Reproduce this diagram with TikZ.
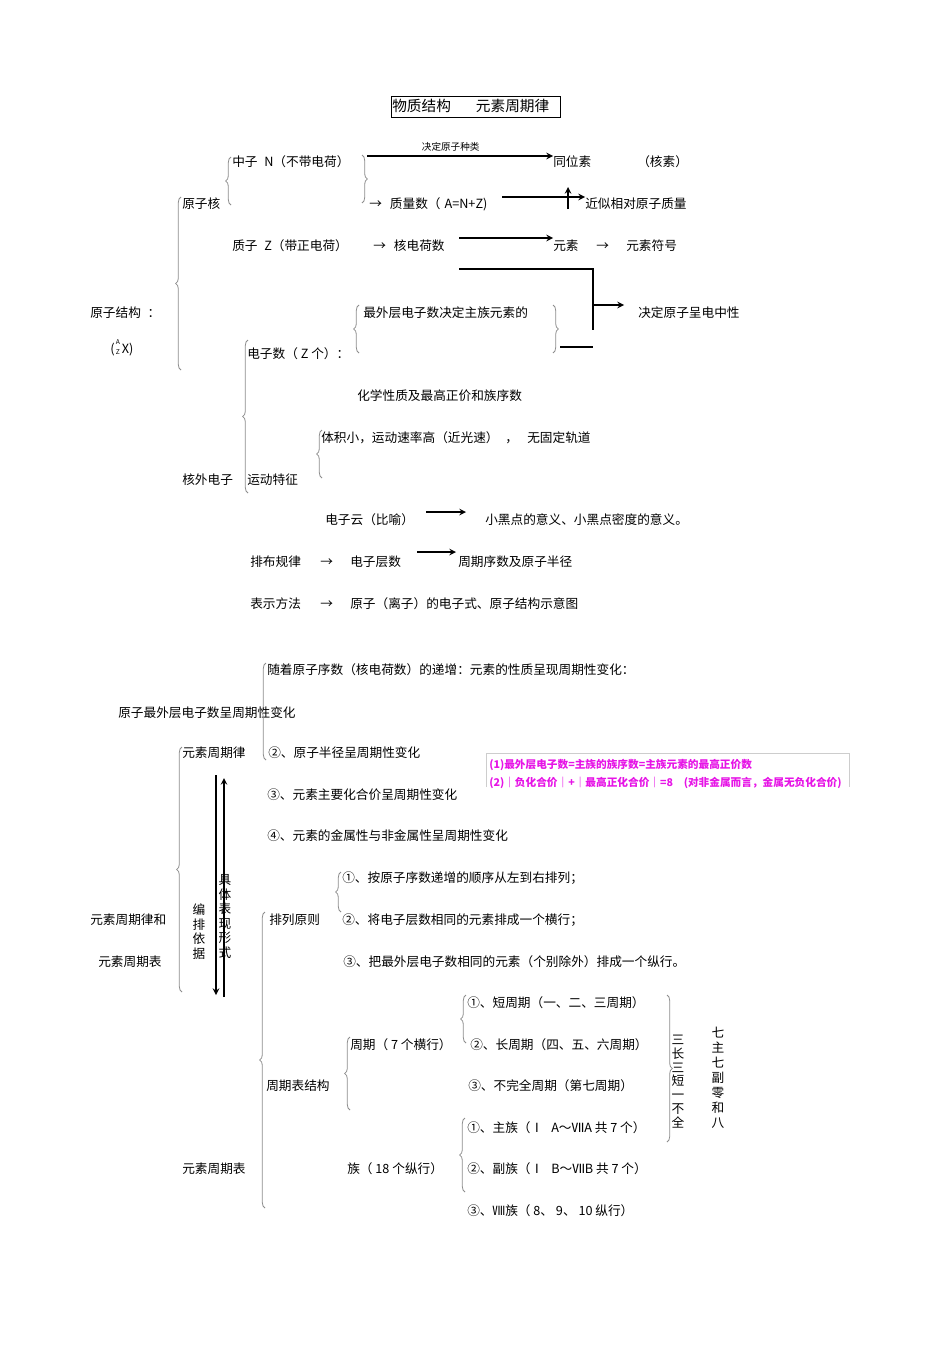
\documentclass[tikz,border=0pt]{standalone}
\usepackage{fontspec}
\usepackage{xcolor}
\usepackage{tikz}
\newfontfamily\cjk{Noto Sans CJK SC}
\definecolor{bracegray}{RGB}{140,140,140}
\definecolor{notemagenta}{RGB}{230,20,230}
\definecolor{noteframe}{RGB}{205,205,205}
\usetikzlibrary{arrows, calc, decorations.pathreplacing}

\begin{document}
\begin{tikzpicture}[
        x=0.75pt, y=-0.75pt,
        every node/.style={inner sep=0pt},
        txt/.style={anchor=west, font=\cjk\fontsize{9.5}{11}\selectfont, text height=0.88em, text depth=0.12em},
        small/.style={font=\cjk\fontsize{7.2}{8}\selectfont},
        note/.style={anchor=west, font=\cjk\bfseries\fontsize{8}{9}\selectfont, text=notemagenta, text height=0.88em, text depth=0.12em},
        vtext/.style={align=center, font=\cjk\fontsize{9.5}{#1}\selectfont},
        lbrace/.style={draw=bracegray, line width=0.6pt, decorate, decoration={brace, amplitude=4pt}},
        arrow/.style={line width=1.2pt,->,>=stealth},
        bar/.style={line width=1pt}
    ]
        \useasboundingbox (0,0) rectangle (950,1345);

        % Title
        \node[txt, font=\cjk\fontsize{11}{13}\selectfont] (title) at (392,106.5) {物质结构\hspace{18.75pt}元素周期律};
        \draw ($(title.west)+(-1,-10.5)$) rectangle ($(title.east)+(11,10.5)$);

        % Nucleus
        \node[txt] (neutron) at (232,161) {中子\hspace{5pt}N（不带电荷）};
        \node[txt] (nucleus) at (182,203) {原子核};
        \node[txt] (massnum) at (369,203) {→\hspace{6pt}质量数（\hspace{3pt}A=N+Z)};
        \node[txt] (proton) at (232,245) {质子\hspace{5pt}Z（带正电荷）};
        \node[txt] (charge) at (373,245) {→\hspace{6pt}核电荷数};
        \node[txt] (isotope) at (553,161) {同位素};
        \node[txt] (nuclide) at (637,161) {（核素）};
        \node[txt] (relmass) at (585,203) {近似相对原子质量};
        \node[txt] (element) at (553,245) {元素};
        \node[txt] (to1) at (596,245) {→};
        \node[txt] (symbol) at (626,245) {元素符号};

        % Atomic structure
        \node[txt] (structure) at (90,312) {原子结构\hspace{5pt}：};
        \node[txt] (azx) at (110,348) {(\hspace{1pt}\raisebox{-0.15em}{\shortstack{\fontsize{5}{5}\selectfont A\\[1.5pt]\fontsize{5}{5}\selectfont Z}}\hspace{1.5pt}X)};
        \node[txt] (outer) at (363,312) {最外层电子数决定主族元素的};
        \node[txt] (neutral) at (638,312) {决定原子呈电中性};

        % Electrons
        \node[txt] (electrons) at (247,353) {电子数（\ Z\ 个）：};
        \node[txt] (chem) at (357,395) {化学性质及最高正价和族序数};
        \node[txt] (volume) at (321,437) {体积小，运动速率高（近光速）\hspace{5pt}，\hspace{7pt}无固定轨道};
        \node[txt] (extra) at (182,479) {核外电子};
        \node[txt] (motion) at (247,479) {运动特征};
        \node[txt] (cloud) at (325,519) {电子云（比喻）};
        \node[txt] (dots) at (485,519) {小黑点的意义、小黑点密度的意义。};
        \node[txt] (layout) at (250,561) {排布规律};
        \node[txt] (to2) at (320,561) {→};
        \node[txt] (shells) at (350,561) {电子层数};
        \node[txt] (period) at (458,561) {周期序数及原子半径};
        \node[txt] (notation) at (250,603) {表示方法};
        \node[txt] (to3) at (320,603) {→};
        \node[txt] (formula) at (350,603) {原子（离子）的电子式、原子结构示意图};

        % Periodic law
        \node[txt] (increase) at (267,669) {随着原子序数（核电荷数）的递增：元素的性质呈现周期性变化：};
        \node[txt] (outerchg) at (118,712) {原子最外层电子数呈周期性变化};
        \node[txt] (law) at (182,752) {元素周期律};
        \node[txt] (radius) at (268,752) {②、原子半径呈周期性变化};
        \node[txt] (valence) at (267,794) {③、元素主要化合价呈周期性变化};
        \node[txt] (metal) at (267,835) {④、元素的金属性与非金属性呈周期性变化};

        % Note box
        \node[note] (note1) at (489,763) {(1)最外层电子数=主族的族序数=主族元素的最高正价数};
        \node[note] (note2) at (489,781) {(2)｜负化合价｜+｜最高正化合价｜=8\hspace{8pt}(对非金属而言，金属无负化合价)};
        \draw[noteframe] (486,787) -- (486,753) -- (849,753) -- (849,787);

        % Law and table
        \node[txt] (lawand) at (90,919) {元素周期律和};
        \node[txt] (table) at (98,961) {元素周期表};
        \node[vtext=10.9] (basis) at (199,931.5) {编\\排\\依\\据};
        \node[vtext=10.95] (form) at (225,916.5) {具\\体\\表\\现\\形\\式};

        % Arrangement
        \node[txt] (principle) at (269,919) {排列原则};
        \node[txt] (rule1) at (342,877) {①、按原子序数递增的顺序从左到右排列；};
        \node[txt] (rule2) at (342,919) {②、将电子层数相同的元素排成一个横行；};
        \node[txt] (rule3) at (343,961) {③、把最外层电子数相同的元素（个别除外）排成一个纵行。};

        % Table structure
        \node[txt] (short) at (467,1002) {①、短周期（一、二、三周期）};
        \node[txt] (long) at (470,1044) {②、长周期（四、五、六周期）};
        \node[txt] (incomplete) at (468,1085) {③、不完全周期（第七周期）};
        \node[txt] (periods) at (350,1044) {周期（\ 7\ 个横行）};
        \node[txt] (tablestruct) at (266,1085) {周期表结构};
        \node[txt] (main) at (467,1127) {①、主族（Ⅰ\hspace{6pt}A～ⅦA\ 共\ 7\ 个）};
        \node[txt] (sub) at (467,1168) {②、副族（Ⅰ\hspace{6pt}B～ⅦB\ 共\ 7\ 个）};
        \node[txt] (eighth) at (467,1210) {③、Ⅷ族（\ 8、\ 9、\ 10\ 纵行）};
        \node[txt] (groups) at (347,1168) {族（\ 18\ 个纵行）};
        \node[txt] (table2) at (182,1168) {元素周期表};
        \node[vtext=10.4] (sanchang) at (678,1081.5) {三\\长\\三\\短\\一\\不\\全};
        \node[vtext=11.25] (qizhu) at (718,1078) {七\\主\\七\\副\\零\\和\\八};

        % Braces
        \draw[lbrace] (231,205) -- (231,157);
        \draw[lbrace] (362,155) -- (362,203);
        \draw[lbrace] (181,370) -- (181,197);
        \draw[lbrace] (359,353) -- (359,305);
        \draw[lbrace] (553,305) -- (553,353);
        \draw[lbrace] (248,493) -- (248,340);
        \draw[lbrace] (322,478) -- (322,430);
        \draw[lbrace] (266,760) -- (266,663);
        \draw[lbrace] (182,992) -- (182,747);
        \draw[lbrace] (341,912) -- (341,872);
        \draw[lbrace] (265,1208) -- (265,912);
        \draw[lbrace] (466,1043) -- (466,995);
        \draw[lbrace] (350,1110) -- (350,1037);
        \draw[lbrace] (465,1192) -- (465,1118);
        \draw[lbrace] (667,995) -- (667,1142);

        % Arrows
        \coordinate (kind) at (367,156);
        \draw[arrow] (kind) -- (kind -| isotope.west) node[txt, small, anchor=south, pos=0.45, yshift=2.4pt] (kindlbl) {决定原子种类};
        \coordinate (mass) at (502,197);
        \draw[arrow] (mass) -- (mass -| relmass.west);
        \coordinate (upfoot) at (568,209);
        \coordinate (uphead) at (568,187);
        \draw[arrow] (upfoot) -- (uphead);
        \coordinate (chg) at (459,238);
        \draw[arrow] (chg) -- (chg -| element.west);
        \coordinate (lineA) at (459,269);
        \coordinate (lineB) at (593,330);
        \draw[bar] (lineA) -| (lineB);
        \coordinate (neutfoot) at (593,305);
        \draw[arrow] (neutfoot) -- ($(neutfoot -| neutral.west)+(-14,0)$);
        \coordinate (shortA) at (560,347);
        \draw[bar] (shortA) -- (shortA -| lineB);
        \coordinate (cloudA) at (426,512);
        \draw[arrow] (cloudA) -- ($(cloudA -| dots.west)+(-19,0)$);
        \coordinate (shellA) at (417,552);
        \draw[arrow] (shellA) -- ($(shellA -| period.west)+(-2,0)$);

        % Double arrow
        \coordinate (downtop) at (216,775);
        \coordinate (downbot) at (216,995);
        \draw[arrow] (downtop) -- (downbot);
        \coordinate (upbot) at (224,997);
        \coordinate (uptop) at (224,778);
        \draw[arrow] (upbot) -- (uptop);

    \end{tikzpicture}
\end{document}
